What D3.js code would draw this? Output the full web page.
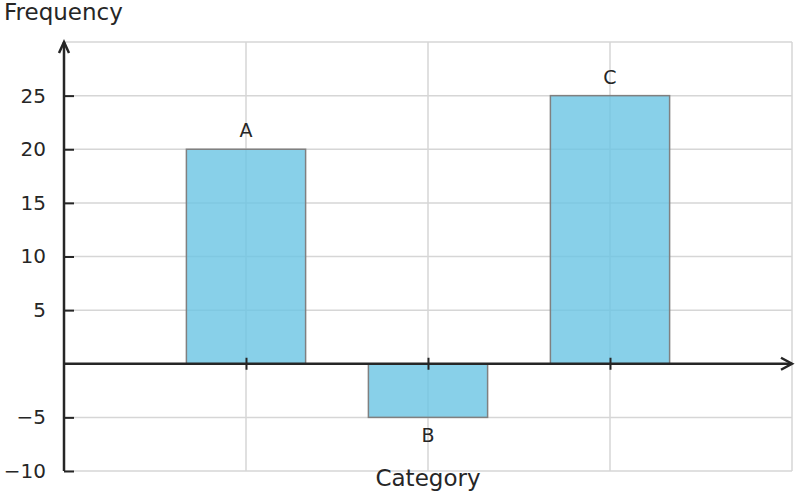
<!DOCTYPE html>
<html>
<head>
<meta charset="utf-8">
<script src="https://cdn.jsdelivr.net/npm/d3@7"></script>
<style>
  body { margin: 0; background: #fff; }
  text { font-family: "DejaVu Sans", sans-serif; fill: #262626; }
</style>
</head>
<body>
<svg id="chart" width="796" height="494"></svg>
<script>
// data
var categories = ["A", "B", "C"];
var positions = [1, 2, 3];
var frequencies = [20, -5, 25];
var yTicks = [-10, -5, 5, 10, 15, 20, 25];
var yGrid = [-10, -5, 0, 5, 10, 15, 20, 25, 30];
var xGrid = [1, 2, 3, 4];

var margin = { top: 42, right: 4, bottom: 23, left: 64 },
  width = 796 - margin.left - margin.right,
  height = 494 - margin.top - margin.bottom;

var x = d3.scaleLinear().domain([0, 4]).range([0, width]);
var y = d3.scaleLinear().domain([-10, 30]).range([height, 0]);

var svg = d3.select("#chart")
  .append("g")
  .attr("transform", "translate(" + margin.left + "," + margin.top + ")");

// grid
svg.selectAll(".hgrid").data(yGrid).enter().append("line")
  .attr("x1", 0).attr("x2", width)
  .attr("y1", function(d) { return y(d); })
  .attr("y2", function(d) { return y(d); })
  .attr("stroke", "#d6d6d6").attr("stroke-width", 1.5);

svg.selectAll(".vgrid").data(xGrid).enter().append("line")
  .attr("x1", function(d) { return x(d); })
  .attr("x2", function(d) { return x(d); })
  .attr("y1", 0).attr("y2", height)
  .attr("stroke", "#d6d6d6").attr("stroke-width", 1.5);

// bars
var barW = x(0.655) - x(0);
var bars = categories.map(function(c, i) {
  return { cat: c, pos: positions[i], val: frequencies[i] };
});

svg.selectAll(".bar").data(bars).enter().append("rect")
  .attr("x", function(d) { return x(d.pos) - barW / 2; })
  .attr("width", barW)
  .attr("y", function(d) { return y(Math.max(0, d.val)); })
  .attr("height", function(d) { return Math.abs(y(d.val) - y(0)); })
  .attr("fill", "rgba(106, 196, 228, 0.8)")
  .attr("stroke", "#808080").attr("stroke-width", 1.5);

// bar labels
svg.selectAll(".lbl").data(bars).enter().append("text")
  .attr("x", function(d) { return x(d.pos); })
  .attr("y", function(d) { return d.val >= 0 ? y(d.val) - 12 : y(d.val) + 25; })
  .attr("text-anchor", "middle")
  .style("font-size", "19px")
  .text(function(d) { return d.cat; });

// y axis
var axisY = d3.axisLeft(y).tickValues(yTicks).tickSize(-10).tickPadding(18)
  .tickFormat(function(d) { return d < 0 ? "\u2212" + Math.abs(d) : d; });
var gy = svg.append("g").call(axisY);
gy.select(".domain").remove();
gy.selectAll(".tick line").attr("stroke", "#262626").attr("stroke-width", 2);
gy.selectAll(".tick text").style("font-size", "20px").attr("fill", "#262626")
  .attr("font-family", "DejaVu Sans");

// x axis through zero
var axisX = d3.axisBottom(x).tickValues(positions).tickSize(6).tickFormat("");
var gx = svg.append("g").attr("transform", "translate(0," + y(0) + ")").call(axisX);
gx.select(".domain").remove();
gx.selectAll(".tick line").attr("y1", -6).attr("stroke", "#262626").attr("stroke-width", 2);

// axis lines with arrows
svg.append("line")
  .attr("x1", 0).attr("x2", width)
  .attr("y1", y(0)).attr("y2", y(0))
  .attr("stroke", "#262626").attr("stroke-width", 2.5);
svg.append("path")
  .attr("d", "M" + (width - 11) + "," + (y(0) - 6) + "L" + width + "," + y(0) + "L" + (width - 11) + "," + (y(0) + 6))
  .attr("fill", "none").attr("stroke", "#262626").attr("stroke-width", 2.5);

svg.append("line")
  .attr("x1", 0).attr("x2", 0)
  .attr("y1", height).attr("y2", 0)
  .attr("stroke", "#262626").attr("stroke-width", 2.5);
svg.append("path")
  .attr("d", "M-5,11L0,0L5,11")
  .attr("fill", "none").attr("stroke", "#262626").attr("stroke-width", 2.5);

// axis titles
d3.select("#chart").append("text")
  .attr("x", 4).attr("y", 20)
  .style("font-size", "23px")
  .text("Frequency");

d3.select("#chart").append("text")
  .attr("x", 428).attr("y", 486)
  .attr("text-anchor", "middle")
  .style("font-size", "23px")
  .text("Category");
</script>
</body>
</html>
